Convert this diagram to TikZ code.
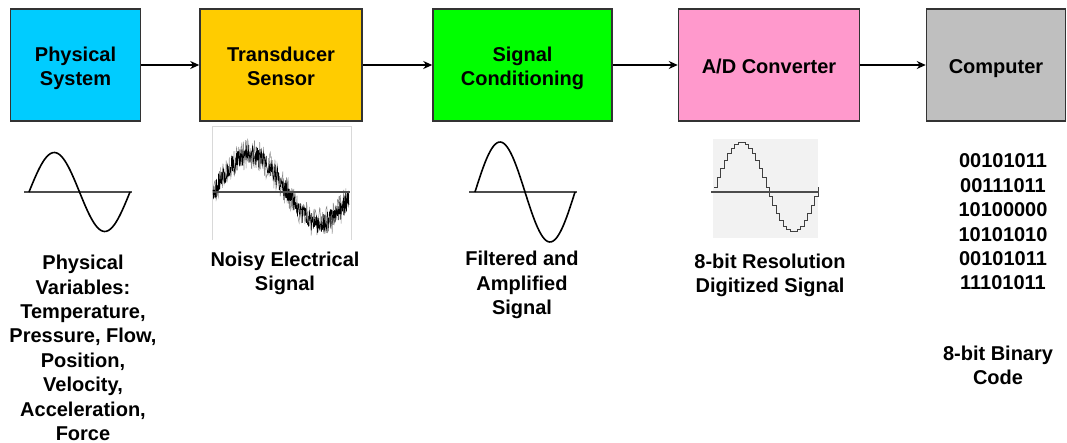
\documentclass[tikz,border=0pt]{standalone}
\usepackage{fontspec}
\setmainfont{Liberation Sans}
\usetikzlibrary{arrows.meta}

\definecolor{physcol}{HTML}{00CCFF}
\definecolor{transcol}{HTML}{FFCC00}
\definecolor{condcol}{HTML}{00FF00}
\definecolor{adccol}{HTML}{FF99CC}
\definecolor{compcol}{HTML}{BFBFBF}

\tikzset{
  block/.style={draw=black!80, line width=1.5pt, minimum height=112pt,
    inner sep=0pt, align=center, font=\fontsize{20}{24.4}\selectfont\bfseries,
    execute at begin node={\rule{0pt}{22.5pt}},
    execute at end node={\rule[-5pt]{0pt}{5pt}}},
  twoline/.style={execute at begin node={\rule{0pt}{46.9pt}}},
  caption/.style={align=center, inner sep=0pt,
    font=\fontsize{20}{24.4}\selectfont\bfseries},
  link/.style={line width=1.6pt, -{Stealth[length=9pt,width=8pt]}},
  wave/.style={line width=1.6pt},
  zeroline/.style={line width=1.4pt, black!70},
}

\begin{document}
\begin{tikzpicture}[x=1pt,y=-1pt]
  \useasboundingbox (0,0) rectangle (1067,443);

  % Blocks
  \node[block, twoline, fill=physcol, minimum width=130pt] (phys) at (75.5,65) {Physical\\System};
  \node[block, twoline, fill=transcol, minimum width=162pt] (trans) at (281,65) {Transducer\\Sensor};
  \node[block, twoline, fill=condcol, minimum width=179pt] (cond) at (522.5,65) {Signal\\Conditioning};
  \node[block, fill=adccol, minimum width=181pt] (adc) at (769,65) {A/D Converter};
  \node[block, fill=compcol, minimum width=139pt] (comp) at (996,65) {Computer};

  % Arrows
  \draw[link] (phys) -- (trans);
  \draw[link] (trans) -- (cond);
  \draw[link] (cond) -- (adc);
  \draw[link] (adc) -- (comp);

  % Physical signal
  \draw[zeroline] (24,192) -- (132,192);
  \draw[wave] plot[smooth, samples=60, domain=29:130] (\x,{192-39.5*sin((360/101)*(\x-29))});

  % Noisy signal
  \draw[black!15] (212,240) -- (212,126) -- (351,126) -- (351,240);
  \pgfmathsetseed{11}
  \draw[black!45, line width=0.5pt] plot[samples=260, domain=213:349] (\x,{189-34*sin((360/140)*(\x-215))+16*rand});
  \draw[black, line width=0.6pt] plot[samples=420, domain=213:349] (\x,{189-34*sin((360/140)*(\x-215))+10*rand});
  \draw[zeroline] (213,192) -- (350,192);

  % Filtered signal
  \draw[zeroline] (469,192) -- (577,192);
  \draw[wave] plot[smooth, samples=60, domain=475:575] (\x,{192-50*sin((360/100)*(\x-475))});

  % Digitized signal
  \fill[black!5] (713,139) rectangle (818,238);
  \draw[black!75, line width=0.9pt] plot[const plot, samples=31, domain=714:818]
    (\x,{187-45*sin((360/104)*(\x-714))});
  \draw[zeroline] (711,192) -- (819,192);

  % Captions
  \node[caption] (physvars) at (83,348) {Physical\\Variables:\\Temperature,\\Pressure, Flow,\\Position,\\Velocity,\\Acceleration,\\Force};
  \node[caption] (noisy) at (285,273.5) {Noisy Electrical\\Signal};
  \node[caption] (filtered) at (522,285) {Filtered and\\Amplified\\Signal};
  \node[caption] (digit) at (770,275.5) {8-bit Resolution\\Digitized Signal};
  \node[caption] (bits) at (1003,222) {00101011\\00111011\\10100000\\10101010\\00101011\\11101011};
  \node[caption] (binary) at (998,365.5) {8-bit Binary\\Code};
\end{tikzpicture}
\end{document}
